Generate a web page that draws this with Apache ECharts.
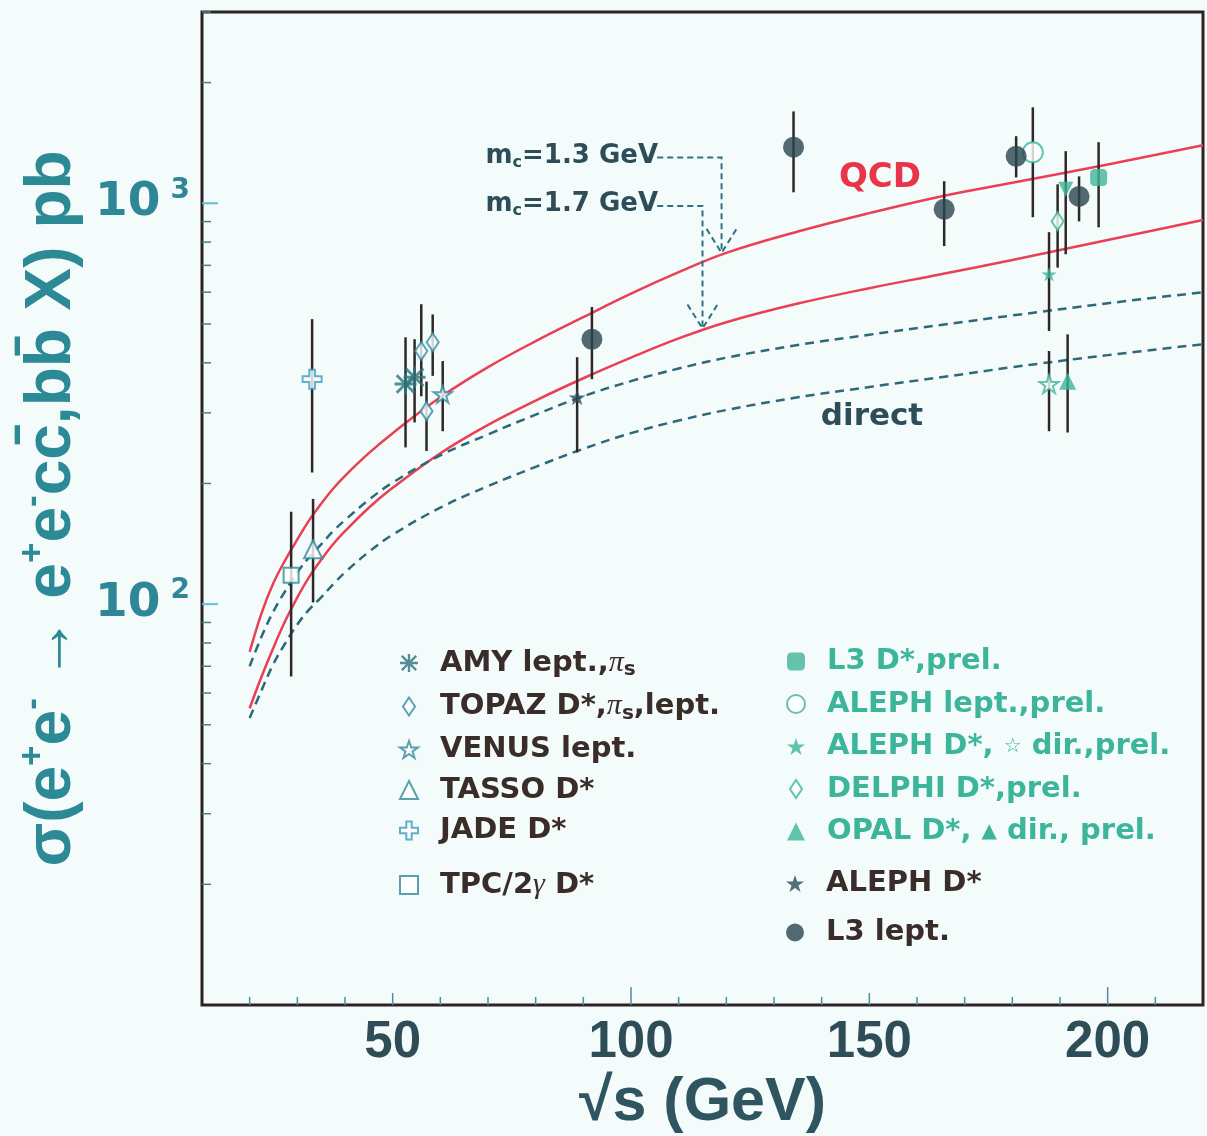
<!DOCTYPE html>
<html>
<head>
<meta charset="utf-8">
<script src="https://cdn.jsdelivr.net/npm/echarts@6/dist/echarts.min.js"></script>
<style>
html, body { margin: 0; padding: 0; background: #f4fbfb; }
#chart { width: 1207px; height: 1136px; }
</style>
</head>
<body>
<div id="chart"></div>
<script>
// theory curves (sqrt(s) in GeV, sigma in pb)
const curveX   = [20, 22.5, 25, 27.5, 30, 32.5, 35, 37.5, 40, 45, 50, 60, 70, 80, 90, 100, 110, 120, 135, 150, 165, 180, 200, 220];
const qcd13    = [76, 95, 113, 129, 145, 162, 178, 194, 209, 238, 267, 328, 390, 453, 520, 595, 673, 752, 850, 945, 1040, 1125, 1250, 1395];
const qcd17    = [55, 66, 78, 91, 104, 117, 129, 141, 152, 174, 195, 238, 280, 322, 366, 412, 460, 505, 562, 614, 665, 722, 810, 908];
const direct13 = [70, 83, 96, 108, 120, 131, 141, 152, 162, 182, 201, 235, 265, 297, 330, 360, 387, 412, 443, 470, 497, 525, 563, 600];
const direct17 = [52, 61, 71, 80, 89, 97, 104, 112, 120, 135, 149, 174, 197, 220, 244, 267, 287, 305, 328, 348, 368, 390, 418, 445];

// measurements: [sqrt(s), sigma, low, high]
const amy        = [[52.7, 354, 246, 463], [54.6, 368, 284, 458]];
const topaz      = [[56.0, 428, 330, 560], [58.4, 450, 371, 528], [57.1, 303, 241, 359]];
const venus      = [[60.5, 334, 270, 404]];
const tasso      = [[33.3, 137, 101, 183]];
const jade       = [[33.1, 364, 213, 514]];
const tpc        = [[28.7, 118, 66, 170]];
const l3Dstar    = [[198.1, 1160, 871, 1420]];
const alephLept  = [[184.3, 1340, 923, 1735]];
const alephDprel = [[187.7, 665, 480, 847]];
const alephDir   = [[187.7, 354, 270, 428]];
const delphi     = [[189.5, 902, 691, 1115]];
const opalD      = [[191.2, 1084, 746, 1349]];
const opalDir    = [[191.6, 360, 268, 471]];
const alephD     = [[88.7, 328, 239, 413]];
const l3Lept     = [[91.8, 458, 364, 551], [134.1, 1380, 1065, 1695], [165.7, 966, 782, 1135],
                    [180.8, 1310, 1160, 1470], [194.0, 1040, 901, 1167]];

// mass annotations: [x start, y level, x tip, y tip]
const arrow13 = [105.5, 1300, 119, 752];
const arrow17 = [105.5, 985, 115, 487];

// axis ticks
const xTicks = [20, 30, 40, 50, 60, 70, 80, 90, 100, 110, 120, 130, 140, 150, 160, 170, 180, 190, 200, 210];
const yTicks = [20, 30, 40, 50, 60, 70, 80, 90, 100, 200, 300, 400, 500, 600, 700, 800, 900, 1000, 2000, 3000];

const X_MIN = 10, X_MAX = 220, Y_MIN = 10, Y_MAX = 3000;

const STAR = 'path://M50,2 L61.8,36.2 L97.6,36.2 L68.6,57.4 L79.4,91.6 L50,70.6 L20.6,91.6 L31.4,57.4 L2.4,36.2 L38.2,36.2 Z';
const ASTER = 'path://M0,8.7 L20,8.7 L20,11.3 L0,11.3 Z M8.7,0 L11.3,0 L11.3,20 L8.7,20 Z ' +
    'M1.08,2.92 L2.92,1.08 L18.92,17.08 L17.08,18.92 Z M17.08,1.08 L18.92,2.92 L2.92,18.92 L1.08,17.08 Z';
const CROSS = 'path://M7,0 L13,0 L13,7 L20,7 L20,13 L13,13 L13,20 L7,20 L7,13 L0,13 L0,7 L7,7 Z';
const DIAMOND = 'path://M6,0 L12,9 L6,18 L0,9 Z';

const TEAL = '#2f8a9a';
const GREEN = '#3cb59b';
const DARK = '#2b4550';
const BROWN = '#3a2c29';
const WIDE = '"DejaVu Sans"';

const legendText = {
    'AMY': '{t|AMY lept.,}{pi|π}{sub|s}',
    'TOPAZ': '{t|TOPAZ D*,}{pi|π}{sub|s}{t|,lept.}',
    'VENUS': '{t|VENUS lept.}',
    'TASSO': '{t|TASSO D*}',
    'JADE': '{t|JADE D*}',
    'TPC': '{t|TPC/2}{pi|γ}{t| D*}',
    'L3 D*': '{t|L3 D*,prel.}',
    'ALEPH lept': '{t|ALEPH lept.,prel.}',
    'ALEPH D* prel': '{t|ALEPH D*, }{g|☆}{t| dir.,prel.}',
    'DELPHI': '{t|DELPHI D*,prel.}',
    'OPAL': '{t|OPAL D*, }{g|▲}{t| dir., prel.}',
    'ALEPH D*': '{t|ALEPH D*}',
    'L3 lept': '{t|L3 lept.}'
};

const legendRich = {
    sp: { width: 17 },
    t: { fontSize: 29, fontWeight: 'bold', fontFamily: 'DejaVu Sans', lineHeight: 34 },
    pi: { fontSize: 30, fontStyle: 'italic', fontFamily: 'Liberation Serif', lineHeight: 34 },
    sub: { fontSize: 20, fontWeight: 'bold', fontFamily: 'DejaVu Sans', lineHeight: 20, verticalAlign: 'bottom' },
    g: { fontSize: 20, fontFamily: 'DejaVu Sans', lineHeight: 34 }
};

function legendBlock(left, top, gap, items) {
    return {
        orient: 'vertical', left: left, top: top, itemGap: gap,
        itemWidth: 18, itemHeight: 18, selectedMode: false,
        data: items,
        formatter: n => '{sp| }' + legendText[n],
        textStyle: { color: BROWN, rich: legendRich }
    };
}

function scatter(name, rows, symbol, size, itemStyle, extra) {
    return Object.assign({
        name: name,
        type: 'scatter',
        data: rows.map(r => [r[0], r[1]]),
        symbol: symbol,
        symbolSize: size,
        symbolKeepAspect: true,
        itemStyle: itemStyle,
        z: 5
    }, extra || {});
}

function curve(name, values, color, dashed) {
    return {
        name: name,
        type: 'line',
        data: curveX.map((x, i) => [x, values[i]]),
        smooth: 0.4,
        showSymbol: false,
        lineStyle: { color: color, width: 2.5, type: dashed ? [9, 6] : 'solid' },
        z: 2
    };
}

const allPoints = [].concat(amy, topaz, venus, tasso, jade, tpc, l3Dstar, alephLept, alephDprel,
    alephDir, delphi, opalD, opalDir, alephD, l3Lept);

const white = '#ffffff';
const mcRich = {
    m: { fill: '#2d4d58', fontSize: 26, fontWeight: 'bold', fontFamily: 'DejaVu Sans', lineHeight: 30 },
    c: { fill: '#2d4d58', fontSize: 16, fontWeight: 'bold', fontFamily: 'DejaVu Sans', lineHeight: 14, verticalAlign: 'bottom' }
};

const option = {
    backgroundColor: '#f4fbfb',
    animation: false,
    textStyle: { fontFamily: 'Liberation Sans' },
    grid: {
        left: 202, right: 4, top: 12, bottom: 131,
        containLabel: false, outerBoundsMode: 'none',
        show: true, borderColor: '#2b2422', borderWidth: 3, backgroundColor: 'transparent'
    },
    xAxis: {
        type: 'value',
        min: X_MIN, max: X_MAX, interval: 10,
        axisLine: { show: false },
        axisTick: { show: false },
        splitLine: { show: false },
        axisLabel: {
            margin: 12,
            fontSize: 51, fontWeight: 'bold', color: '#2f4d57', fontFamily: 'Liberation Sans',
            formatter: v => (v % 50 === 0 ? String(v) : '')
        },
        name: '√s (GeV)',
        nameLocation: 'middle',
        nameGap: 63,
        nameTextStyle: { fontSize: 61, fontWeight: 'bold', color: '#2f5560', fontFamily: 'Liberation Sans' }
    },
    yAxis: {
        type: 'log',
        logBase: 10,
        min: Y_MIN, max: Y_MAX,
        axisLine: { show: false },
        axisTick: { show: false },
        splitLine: { show: false },
        axisLabel: {
            margin: 12,
            formatter: function (v) {
                const e = Math.log10(v);
                if (Math.abs(e - 2) < 1e-6) return '{b|10}{s|2}';
                if (Math.abs(e - 3) < 1e-6) return '{b|10}{s|3}';
                return '';
            },
            rich: {
                b: { fontSize: 47, fontWeight: 'bold', color: '#2e8796', fontFamily: 'DejaVu Sans', lineHeight: 54 },
                s: { fontSize: 28, fontWeight: 'bold', color: '#2e8796', fontFamily: 'DejaVu Sans',
                     lineHeight: 26, verticalAlign: 'top', padding: [0, 0, 0, 10] }
            }
        },
        name: '{t|σ(e}{p|+}{t|e}{p|-}{t| → e}{p|+}{t|e}{p|-}{t|cc\u0304,bb\u0304 X) pb}',
        nameLocation: 'middle',
        nameGap: 103,
        nameTextStyle: {
            rich: {
                t: { fontSize: 64, fontWeight: 'bold', color: '#2c8996', fontFamily: 'Liberation Sans', lineHeight: 72 },
                p: { fontSize: 35, fontWeight: 'bold', color: '#2c8996', fontFamily: 'Liberation Sans',
                     lineHeight: 36, verticalAlign: 'top' }
            }
        }
    },
    legend: [
        legendBlock(394, 643, 11.5, [
            'AMY',
            { name: 'TOPAZ', icon: DIAMOND },
            'VENUS', 'TASSO', 'JADE'
        ]),
        legendBlock(394, 865, 8, ['TPC']),
        legendBlock(781, 642, 13.5, [
            { name: 'L3 D*', textStyle: { color: GREEN } },
            { name: 'ALEPH lept', textStyle: { color: GREEN } },
            { name: 'ALEPH D* prel', textStyle: { color: GREEN } },
            { name: 'DELPHI', icon: DIAMOND, textStyle: { color: GREEN } },
            { name: 'OPAL', textStyle: { color: GREEN } }
        ]),
        legendBlock(781, 864, 20, ['ALEPH D*', 'L3 lept'])
    ],
    graphic: [
        { type: 'text', x: 880, y: 178, style: { text: 'QCD', fill: '#e8354a', font: 'bold 34px ' + WIDE, align: 'center', verticalAlign: 'middle' } },
        { type: 'text', x: 872, y: 417, style: { text: 'direct', fill: '#2d4d58', font: 'bold 31px ' + WIDE, align: 'center', verticalAlign: 'middle' } },
        { type: 'text', x: 658, y: 156, style: { text: '{m|m}{c|c}{m|=1.3 GeV}', align: 'right', verticalAlign: 'middle', rich: mcRich } },
        { type: 'text', x: 658, y: 204, style: { text: '{m|m}{c|c}{m|=1.7 GeV}', align: 'right', verticalAlign: 'middle', rich: mcRich } }
    ],
    series: [
        curve('QCD 1.3', qcd13, '#ea3f55', false),
        curve('QCD 1.7', qcd17, '#ea3f55', false),
        curve('direct 1.3', direct13, '#2c6a7a', true),
        curve('direct 1.7', direct17, '#2c6a7a', true),
        {
            name: 'ticks y',
            type: 'custom',
            silent: true,
            data: yTicks.map(v => [X_MIN, v]),
            renderItem: function (params, api) {
                const v = api.value(1);
                const p = api.coord([X_MIN, v]);
                const e = Math.log10(v);
                const major = Math.abs(e - Math.round(e)) < 1e-6;
                return {
                    type: 'line',
                    shape: { x1: p[0], y1: p[1], x2: p[0] + (major ? 16 : 9), y2: p[1] },
                    style: { stroke: major ? '#5cc3d6' : '#4a7f8a', lineWidth: major ? 2 : 1.5 }
                };
            },
            z: 3
        },
        {
            name: 'ticks x',
            type: 'custom',
            silent: true,
            data: xTicks.map(v => [v, Y_MIN]),
            renderItem: function (params, api) {
                const v = api.value(0);
                const p = api.coord([v, Y_MIN]);
                const len = v % 100 === 0 ? 18 : (v % 50 === 0 ? 12 : 8);
                return {
                    type: 'line',
                    shape: { x1: p[0], y1: p[1], x2: p[0], y2: p[1] - len },
                    style: { stroke: '#4d8f9c', lineWidth: 1.5 }
                };
            },
            z: 3
        },
        {
            name: 'errors',
            type: 'custom',
            silent: true,
            data: allPoints.map(r => [r[0], r[2], r[3]]),
            encode: { x: 0, y: [1, 2] },
            renderItem: function (params, api) {
                const lo = api.coord([api.value(0), api.value(1)]);
                const hi = api.coord([api.value(0), api.value(2)]);
                return {
                    type: 'line',
                    shape: { x1: lo[0], y1: lo[1], x2: hi[0], y2: hi[1] },
                    style: { stroke: '#2e2926', lineWidth: 2.5 }
                };
            },
            z: 4
        },
        {
            name: 'mass arrows',
            type: 'custom',
            silent: true,
            data: [arrow13, arrow17],
            encode: { x: [0, 2], y: [1, 3] },
            renderItem: function (params, api) {
                const a = api.coord([api.value(0), api.value(1)]);
                const b = api.coord([api.value(2), api.value(1)]);
                const c = api.coord([api.value(2), api.value(3)]);
                const dash = { stroke: '#2d7384', lineWidth: 2, lineDash: [6, 4], fill: null };
                return {
                    type: 'group',
                    children: [
                        { type: 'polyline', shape: { points: [a, b, c] }, style: dash },
                        { type: 'polyline', shape: { points: [[c[0] - 15, c[1] - 24], c, [c[0] + 15, c[1] - 24]] }, style: dash }
                    ]
                };
            },
            z: 3
        },
        scatter('AMY', amy, ASTER, 22, { color: '#2a737a' }),
        scatter('TOPAZ', topaz, DIAMOND, 18, { color: white, borderColor: '#2f8ea3', borderWidth: 2 }),
        scatter('VENUS', venus, STAR, 18, { color: white, borderColor: TEAL, borderWidth: 2 }),
        scatter('TASSO', tasso, 'triangle', 18, { color: white, borderColor: TEAL, borderWidth: 2 }),
        scatter('JADE', jade, CROSS, 19, { color: white, borderColor: '#3a9cc0', borderWidth: 2 }),
        scatter('TPC', tpc, 'rect', 15, { color: white, borderColor: TEAL, borderWidth: 2 }),
        scatter('L3 D*', l3Dstar, 'roundRect', 17, { color: '#41b59a' }),
        scatter('ALEPH lept', alephLept, 'circle', 20, { color: white, borderColor: GREEN, borderWidth: 2 }),
        scatter('ALEPH D* prel', alephDprel, STAR, 15, { color: GREEN }),
        scatter('ALEPH dir', alephDir, STAR, 19, { color: white, borderColor: GREEN, borderWidth: 2 }),
        scatter('DELPHI', delphi, DIAMOND, 18, { color: white, borderColor: GREEN, borderWidth: 2 }),
        scatter('OPAL', opalD, 'triangle', 15, { color: GREEN }, { symbolRotate: 180 }),
        scatter('OPAL dir', opalDir, 'triangle', 17, { color: GREEN }),
        scatter('ALEPH D*', alephD, STAR, 17, { color: '#2b4d5c' }),
        scatter('L3 lept', l3Lept, 'circle', 21, { color: DARK })
    ]
};

const chart = echarts.init(document.getElementById('chart'));
chart.setOption(option);
window.addEventListener('resize', () => chart.resize());
</script>
</body>
</html>
